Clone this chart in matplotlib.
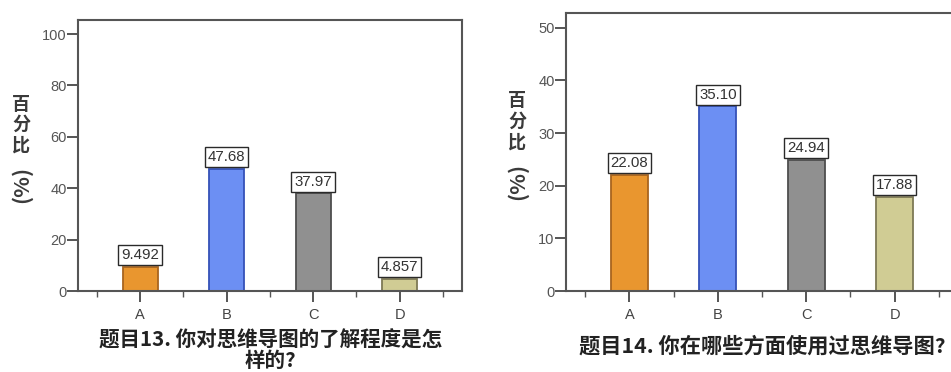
import matplotlib.pyplot as plt

plt.rcParams['font.family'] = ['Liberation Sans', 'DejaVu Sans']

CJK = ['Noto Sans CJK SC', 'DejaVu Sans']

categories = ["A", "B", "C", "D"]
q13_values = [9.492, 47.68, 37.97, 4.857]
q13_labels = ["9.492", "47.68", "37.97", "4.857"]
q14_values = [22.08, 35.10, 24.94, 17.88]
q14_labels = ["22.08", "35.10", "24.94", "17.88"]

q13_title = "题目13. 你对思维导图的了解程度是怎\n样的?"
q14_title = "题目14. 你在哪些方面使用过思维导图?"
ylabel_chars = ["百", "分", "比"]
ylabel_unit = "(%)"

bar_colors = ["#E9962F", "#6C8FF3", "#909090", "#D0CC94"]
edge_colors = ["#A8651F", "#3552B8", "#4E4E4E", "#7E7A55"]

W, H = 951, 372


def draw_panel(ax, values, labels, ymax, yticks, bar_width):
    x = range(len(categories))
    ax.bar(x, values, width=bar_width, color=bar_colors,
           edgecolor=edge_colors, linewidth=1.3, zorder=2)
    for xi, v, lab in zip(x, values, labels):
        ax.annotate(lab, (xi, v), xytext=(0, 3.4), textcoords="offset points",
                    ha="center", va="bottom", fontsize=10.8, color="#333333",
                    bbox=dict(boxstyle="square,pad=0.2", fc="white",
                              ec="#2a2a2a", lw=1.0), zorder=3)
    ax.set_xlim(-0.72, 3.72)
    ax.set_ylim(0, ymax)
    ax.set_yticks(yticks)
    ax.set_xticks(list(x))
    ax.set_xticklabels(categories)
    ax.set_xticks([-0.5, 0.5, 1.5, 2.5, 3.5], minor=True)
    ax.tick_params(axis="y", direction="out", length=8, width=1.4,
                   color="#555555", labelsize=10.5, labelcolor="#555555", pad=0)
    ax.tick_params(axis="x", which="major", direction="out", length=8,
                   width=1.4, color="#555555", labelsize=10.5,
                   labelcolor="#444444", pad=4)
    ax.tick_params(axis="x", which="minor", direction="out", length=4,
                   width=1.0, color="#555555")
    for s in ax.spines.values():
        s.set_color("#555555")
        s.set_linewidth(1.5)


def draw_ylabel(fig, xpx, ypx):
    # upright characters stacked top to bottom, then the rotated unit
    for i, ch in enumerate(ylabel_chars):
        fig.text(xpx / W, 1 - (ypx + 20.5 * i) / H, ch, family=CJK,
                 fontsize=13, weight="bold", color="#3a3a3a",
                 ha="center", va="center")
    fig.text(xpx / W, 1 - (ypx + 80) / H, ylabel_unit, family=CJK,
             fontsize=15.5, weight="bold", color="#3a3a3a",
             ha="center", va="center", rotation=90)


fig = plt.figure(figsize=(W / 100, H / 100), dpi=100)

ax1 = fig.add_axes([0.082, 0.2177, 0.4038, 0.728])
draw_panel(ax1, q13_values, q13_labels, 105.4, [0, 20, 40, 60, 80, 100], 0.41)

ax2 = fig.add_axes([0.595, 0.2177, 0.4127, 0.747])
draw_panel(ax2, q14_values, q14_labels, 52.8, [0, 10, 20, 30, 40, 50], 0.42)

draw_ylabel(fig, 21, 104)
draw_ylabel(fig, 517, 101)

fig.text(0.284, 0.058, q13_title, family=CJK, fontsize=14.8, weight="bold",
         color="#222222", ha="center", va="center", linespacing=0.93)
fig.text(0.801, 0.07, q14_title, family=CJK, fontsize=15.3, weight="bold",
         color="#222222", ha="center", va="center")

fig.savefig("out.png", dpi=100)
